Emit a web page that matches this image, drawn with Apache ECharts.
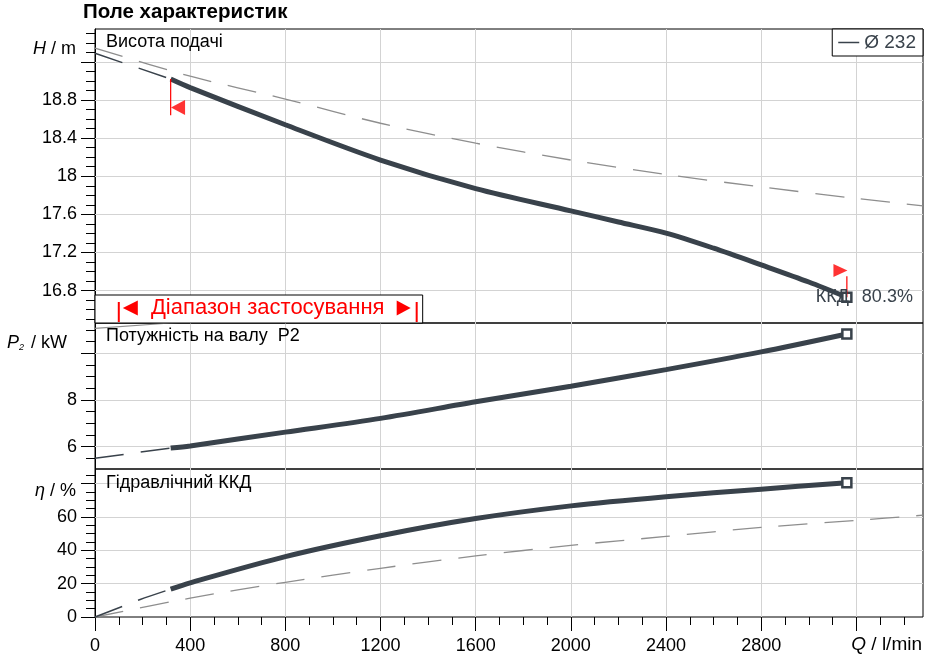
<!DOCTYPE html>
<html><head><meta charset="utf-8">
<script src="https://cdn.jsdelivr.net/npm/echarts@6.0.0/dist/echarts.min.js"></script>
<style>html,body{margin:0;padding:0;background:#fff}#c{width:934px;height:659px}</style>
</head><body><div id="c"></div>
<script>
// ---------- data ----------
const Q_MAX = 3480;
const X_MAJOR = [0, 400, 800, 1200, 1600, 2000, 2400, 2800, 3200];
const X_LABELS = [0, 400, 800, 1200, 1600, 2000, 2400, 2800];
const X_MINOR = [100,200,300,500,600,700,900,1000,1100,1300,1400,1500,1700,1800,1900,2100,2200,2300,2500,2600,2700,2900,3000,3100,3300,3400];

const H_MIN = 16.46, H_MAX = 19.545;
const H_MAJOR = [16.8, 17.2, 17.6, 18, 18.4, 18.8, 19.2];
const H_LABELS = [16.8, 17.2, 17.6, 18, 18.4, 18.8];
const H_MINOR = [16.5,16.6,16.7,16.9,17.0,17.1,17.3,17.4,17.5,17.7,17.8,17.9,18.1,18.2,18.3,18.5,18.6,18.7,18.9,19.0,19.1,19.3,19.4,19.5];

const P_MIN = 5.04, P_MAX = 11.3;
const P_MAJOR = [6, 8, 10];
const P_LABELS = [6, 8];
const P_MINOR = [5.5, 6.5, 7, 7.5, 8.5, 9, 9.5, 10.5, 11];

const E_MIN = 0, E_MAX = 88.7;
const E_MAJOR = [0, 20, 40, 60, 80];
const E_LABELS = [0, 20, 40, 60];
const E_MINOR = [5,10,15,25,30,35,45,50,55,65,70,75,85];

// head curve
const Q_H = [318, 400, 800, 1200, 1600, 2000, 2200, 2400, 2600, 2800, 3000, 3160];
const H_CURVE = [19.02, 18.93, 18.54, 18.17, 17.87, 17.637, 17.52, 17.403, 17.245, 17.07, 16.89, 16.73];
const Q_EXT = [0, 318];
const H_EXT = [19.29, 19.02];
const Q_REF = [0, 400, 800, 1200, 1600, 2000, 2400, 2800, 3200, 3480];
const H_REF = [19.345, 19.05, 18.81, 18.556, 18.347, 18.17, 18.018, 17.888, 17.767, 17.69];

// power curve
const Q_CURVE = [318, 400, 800, 1200, 1600, 2000, 2400, 2800, 3160];
const P_CURVE = [5.94, 6.03, 6.62, 7.21, 7.92, 8.59, 9.3, 10.06, 10.83];
const P_EXT = [5.5, 5.94];
const Q_P_TOP = [0, 318, 600];
const P_TOP = [11.07, 11.3, 11.5];

// efficiency curve
const E_CURVE = [16.7, 20.5, 36.2, 48.7, 59.0, 66.6, 72.1, 76.6, 80.5];
const Q_E_EXT = [0, 120, 190, 318];
const E_EXT = [0, 6.6, 10.5, 16.7];
const E_REF = [0, 11.3, 20.8, 29.2, 36.6, 42.9, 48.3, 53.7, 57.9, 61.0];

// markers / annotations
const Q_START = 318, Q_END = 3160;
const LEFT_MARK_H = [19.02, 18.64];
const LEFT_TRI = [349, 18.72];
const RIGHT_MARK_H = [16.95, 16.73];
const RIGHT_TRI = [3133, 17.01];
const RANGE_Q = [100, 1352];
const EFF_TEXT = '80.3%';
const LEGEND_NAME = 'Ø 232';

// ---------- styles ----------
const FONT = "'Liberation Sans', Arial, sans-serif";
const DARK = '#39424b';
const GRAY = '#8e8e8e';
const GRID_C = '#d3d3d3';
const RED = '#ff0000';
const zip = (xs, ys) => xs.map((x, i) => [x, ys[i]]);
const withEnd = (arr) => arr.map((p, i) => i === arr.length - 1
  ? {value: p, symbol: 'rect', symbolSize: 9, itemStyle: {color: '#fff', borderColor: DARK, borderWidth: 2.5}}
  : p);

function xAx(grid, show) {
  return {
    type: 'value', gridIndex: grid, min: 0, max: Q_MAX, interval: 400, position: 'bottom',
    axisLine: {show: false},
    axisTick: {show: show, customValues: X_MAJOR, length: 14, lineStyle: {color: '#000'}},
    axisLabel: {show: show, customValues: X_LABELS, fontSize: 18, color: '#000', fontFamily: FONT, margin: 20,
      formatter: v => String(v)},
    splitLine: {show: true, lineStyle: {color: GRID_C, width: 1}}
  };
}
function xMinor(grid) {
  return {
    type: 'value', gridIndex: grid, min: 0, max: Q_MAX, position: 'bottom',
    axisLine: {show: false}, axisLabel: {show: false}, splitLine: {show: false},
    axisTick: {show: true, customValues: X_MINOR, length: 8, lineStyle: {color: '#000'}}
  };
}
function yAx(grid, mn, mx, major, labels) {
  return {
    type: 'value', gridIndex: grid, min: mn, max: mx, position: 'left',
    axisLine: {show: true, lineStyle: {color: '#000'}},
    axisTick: {show: true, customValues: major, length: 14, lineStyle: {color: '#000'}},
    axisLabel: {show: true, customValues: labels, fontSize: 18, color: '#000', fontFamily: FONT, margin: 18,
      formatter: v => String(v)},
    splitLine: {show: false}
  };
}
function yMinor(grid, mn, mx, minor) {
  return {
    type: 'value', gridIndex: grid, min: mn, max: mx, position: 'left',
    axisLine: {show: false}, axisLabel: {show: false}, splitLine: {show: false},
    axisTick: {show: true, customValues: minor, length: 9, lineStyle: {color: '#000'}}
  };
}
function hGrid(x, y, values) {
  return {type: 'line', xAxisIndex: x, yAxisIndex: y, data: [], silent: true, z: 1,
    markLine: {silent: true, z: 1, symbol: ['none', 'none'], label: {show: false}, animation: false,
      lineStyle: {color: GRID_C, width: 1, type: 'solid'}, emphasis: {disabled: true},
      data: values.map(v => ({yAxis: v}))}};
}
function thick(name, x, y, data) {
  return {name, type: 'line', xAxisIndex: x, yAxisIndex: y, data: withEnd(data), smooth: 0.3,
    symbol: 'none', showSymbol: true, lineStyle: {color: DARK, width: 5}, itemStyle: {color: DARK}, z: 5};
}
function thin(x, y, data, color, width) {
  return {type: 'line', xAxisIndex: x, yAxisIndex: y, data, smooth: 0.3, symbol: 'none',
    lineStyle: {color, width, type: [29, 17]}, z: 3};
}

const chart = echarts.init(document.getElementById('c'), null, {renderer: 'canvas'});
const gridBase = {left: 95, right: 11, show: true, borderColor: '#000', borderWidth: 1, backgroundColor: 'transparent'};

chart.setOption({
  animation: false,
  backgroundColor: '#fff',
  grid: [
    Object.assign({top: 29, height: 294}, gridBase),
    Object.assign({top: 323, height: 146}, gridBase),
    Object.assign({top: 469, height: 148}, gridBase)
  ],
  xAxis: [xAx(0, false), xAx(1, false), xAx(2, true), xMinor(2)],
  yAxis: [
    yAx(0, H_MIN, H_MAX, H_MAJOR, H_LABELS), yMinor(0, H_MIN, H_MAX, H_MINOR),
    yAx(1, P_MIN, P_MAX, P_MAJOR, P_LABELS), yMinor(1, P_MIN, P_MAX, P_MINOR),
    yAx(2, E_MIN, E_MAX, E_MAJOR, E_LABELS), yMinor(2, E_MIN, E_MAX, E_MINOR)
  ],
  legend: {
    right: 11, top: 29, data: [{name: LEGEND_NAME, icon: 'rect'}],
    itemWidth: 21, itemHeight: 1.5, itemGap: 8,
    borderColor: '#000', borderWidth: 1, padding: [4, 7, 4, 6], backgroundColor: '#fff',
    textStyle: {fontSize: 19, color: DARK, fontFamily: FONT}
  },
  series: [
    hGrid(0, 0, H_MAJOR.filter(v => v > H_MIN && v < H_MAX)),
    hGrid(1, 2, P_MAJOR),
    hGrid(2, 4, E_MAJOR.filter(v => v > E_MIN)),

    thin(0, 0, zip(Q_REF, H_REF), GRAY, 1.3),
    thin(0, 0, zip(Q_EXT, H_EXT), DARK, 1.5),
    thick(LEGEND_NAME, 0, 0, zip(Q_H, H_CURVE)),
    {type: 'line', xAxisIndex: 0, yAxisIndex: 0, data: [[Q_START, LEFT_MARK_H[0]], [Q_START, LEFT_MARK_H[1]]],
      symbol: 'none', lineStyle: {color: RED, width: 1.2}, z: 6},
    {type: 'scatter', xAxisIndex: 0, yAxisIndex: 0, data: [LEFT_TRI], symbol: 'triangle', symbolRotate: 90,
      symbolSize: [15, 14], itemStyle: {color: RED}, z: 6},
    {type: 'line', xAxisIndex: 0, yAxisIndex: 0, data: [[Q_END, RIGHT_MARK_H[0]], [Q_END, RIGHT_MARK_H[1]]],
      symbol: 'none', lineStyle: {color: RED, width: 1.2}, z: 6},
    {type: 'scatter', xAxisIndex: 0, yAxisIndex: 0, data: [RIGHT_TRI], symbol: 'triangle', symbolRotate: -90,
      symbolSize: [13, 14], itemStyle: {color: RED}, z: 6},

    {type: 'line', xAxisIndex: 1, yAxisIndex: 2, data: zip(Q_P_TOP, P_TOP), symbol: 'none',
      lineStyle: {color: GRAY, width: 1.2}, z: 3},
    thin(1, 2, zip(Q_EXT, P_EXT), DARK, 1.5),
    thick('P2', 1, 2, zip(Q_CURVE, P_CURVE)),

    thin(2, 4, zip(Q_REF, E_REF), GRAY, 1.3),
    thin(2, 4, zip(Q_E_EXT, E_EXT), DARK, 1.5),
    thick('eta', 2, 4, zip(Q_CURVE, E_CURVE))
  ]
});

// ---------- text annotations ----------
const xr0 = chart.convertToPixel({xAxisIndex: 0}, RANGE_Q[0]);
const xr1 = chart.convertToPixel({xAxisIndex: 0}, RANGE_Q[1]);
const xEnd = chart.convertToPixel({xAxisIndex: 0}, Q_END);
const yEff = chart.convertToPixel({yAxisIndex: 0}, 16.78);
const boxTop = 295, boxBottom = 323, yMid = 308;
const txt = (x, y, text, opts) => ({type: 'text', x, y, z: 100, style: Object.assign({
  text, fill: '#000', font: '18px ' + FONT, textVerticalAlign: 'middle', textAlign: 'left'}, opts || {})});

chart.setOption({
  graphic: [
    txt(83, 12, 'Поле характеристик', {font: 'bold 20.5px ' + FONT}),
    txt(76, 49, '{i|H} / m', {textAlign: 'right', font: '18px ' + FONT,
      rich: {i: {fontStyle: 'italic', fontSize: 18, fontFamily: FONT}}}),
    txt(67, 343, '{i|P}{s|2} / kW', {textAlign: 'right', font: '18px ' + FONT,
      rich: {i: {fontStyle: 'italic', fontSize: 18, fontFamily: FONT}, s: {fontStyle: 'italic', fontSize: 9, fontFamily: FONT, verticalAlign: 'bottom', padding: [8, 2, 0, 0]}}}),
    txt(76, 491, '{i|η} / %', {textAlign: 'right', font: '18px ' + FONT,
      rich: {i: {fontStyle: 'italic', fontSize: 18, fontFamily: FONT}}}),
    txt(922, 645, '{i|Q} / l/min', {textAlign: 'right', font: '19px ' + FONT,
      rich: {i: {fontStyle: 'italic', fontSize: 19, fontFamily: FONT}}}),
    txt(106, 42, 'Висота подачі'),
    txt(106, 336, 'Потужність на валу  P2'),
    txt(106, 483, 'Гідравлічний ККД'),
    txt(xEnd - 31, yEff + 5, 'ККД', {fill: DARK}),
    txt(xEnd + 15, yEff + 5, EFF_TEXT, {fill: DARK}),
    {type: 'rect', z: 90, shape: {x: 95, y: boxTop, width: xr1 - 95 + 6, height: boxBottom - boxTop},
      style: {fill: '#fff', stroke: '#000', lineWidth: 1}},
    {type: 'line', z: 95, shape: {x1: xr0, y1: boxTop + 7, x2: xr0, y2: boxBottom - 1}, style: {stroke: RED, lineWidth: 2}},
    {type: 'line', z: 95, shape: {x1: xr1, y1: boxTop + 7, x2: xr1, y2: boxBottom - 1}, style: {stroke: RED, lineWidth: 2}},
    {type: 'polygon', z: 95, shape: {points: [[xr0 + 4, yMid], [xr0 + 19, yMid - 7.5], [xr0 + 19, yMid + 7.5]]}, style: {fill: RED}},
    {type: 'polygon', z: 95, shape: {points: [[xr1 - 6, yMid], [xr1 - 20, yMid - 7.5], [xr1 - 20, yMid + 7.5]]}, style: {fill: RED}},
    txt((xr0 + xr1) / 2, yMid, 'Діапазон застосування', {textAlign: 'center', fill: RED, font: '22px ' + FONT})
  ]
});
</script></body></html>
